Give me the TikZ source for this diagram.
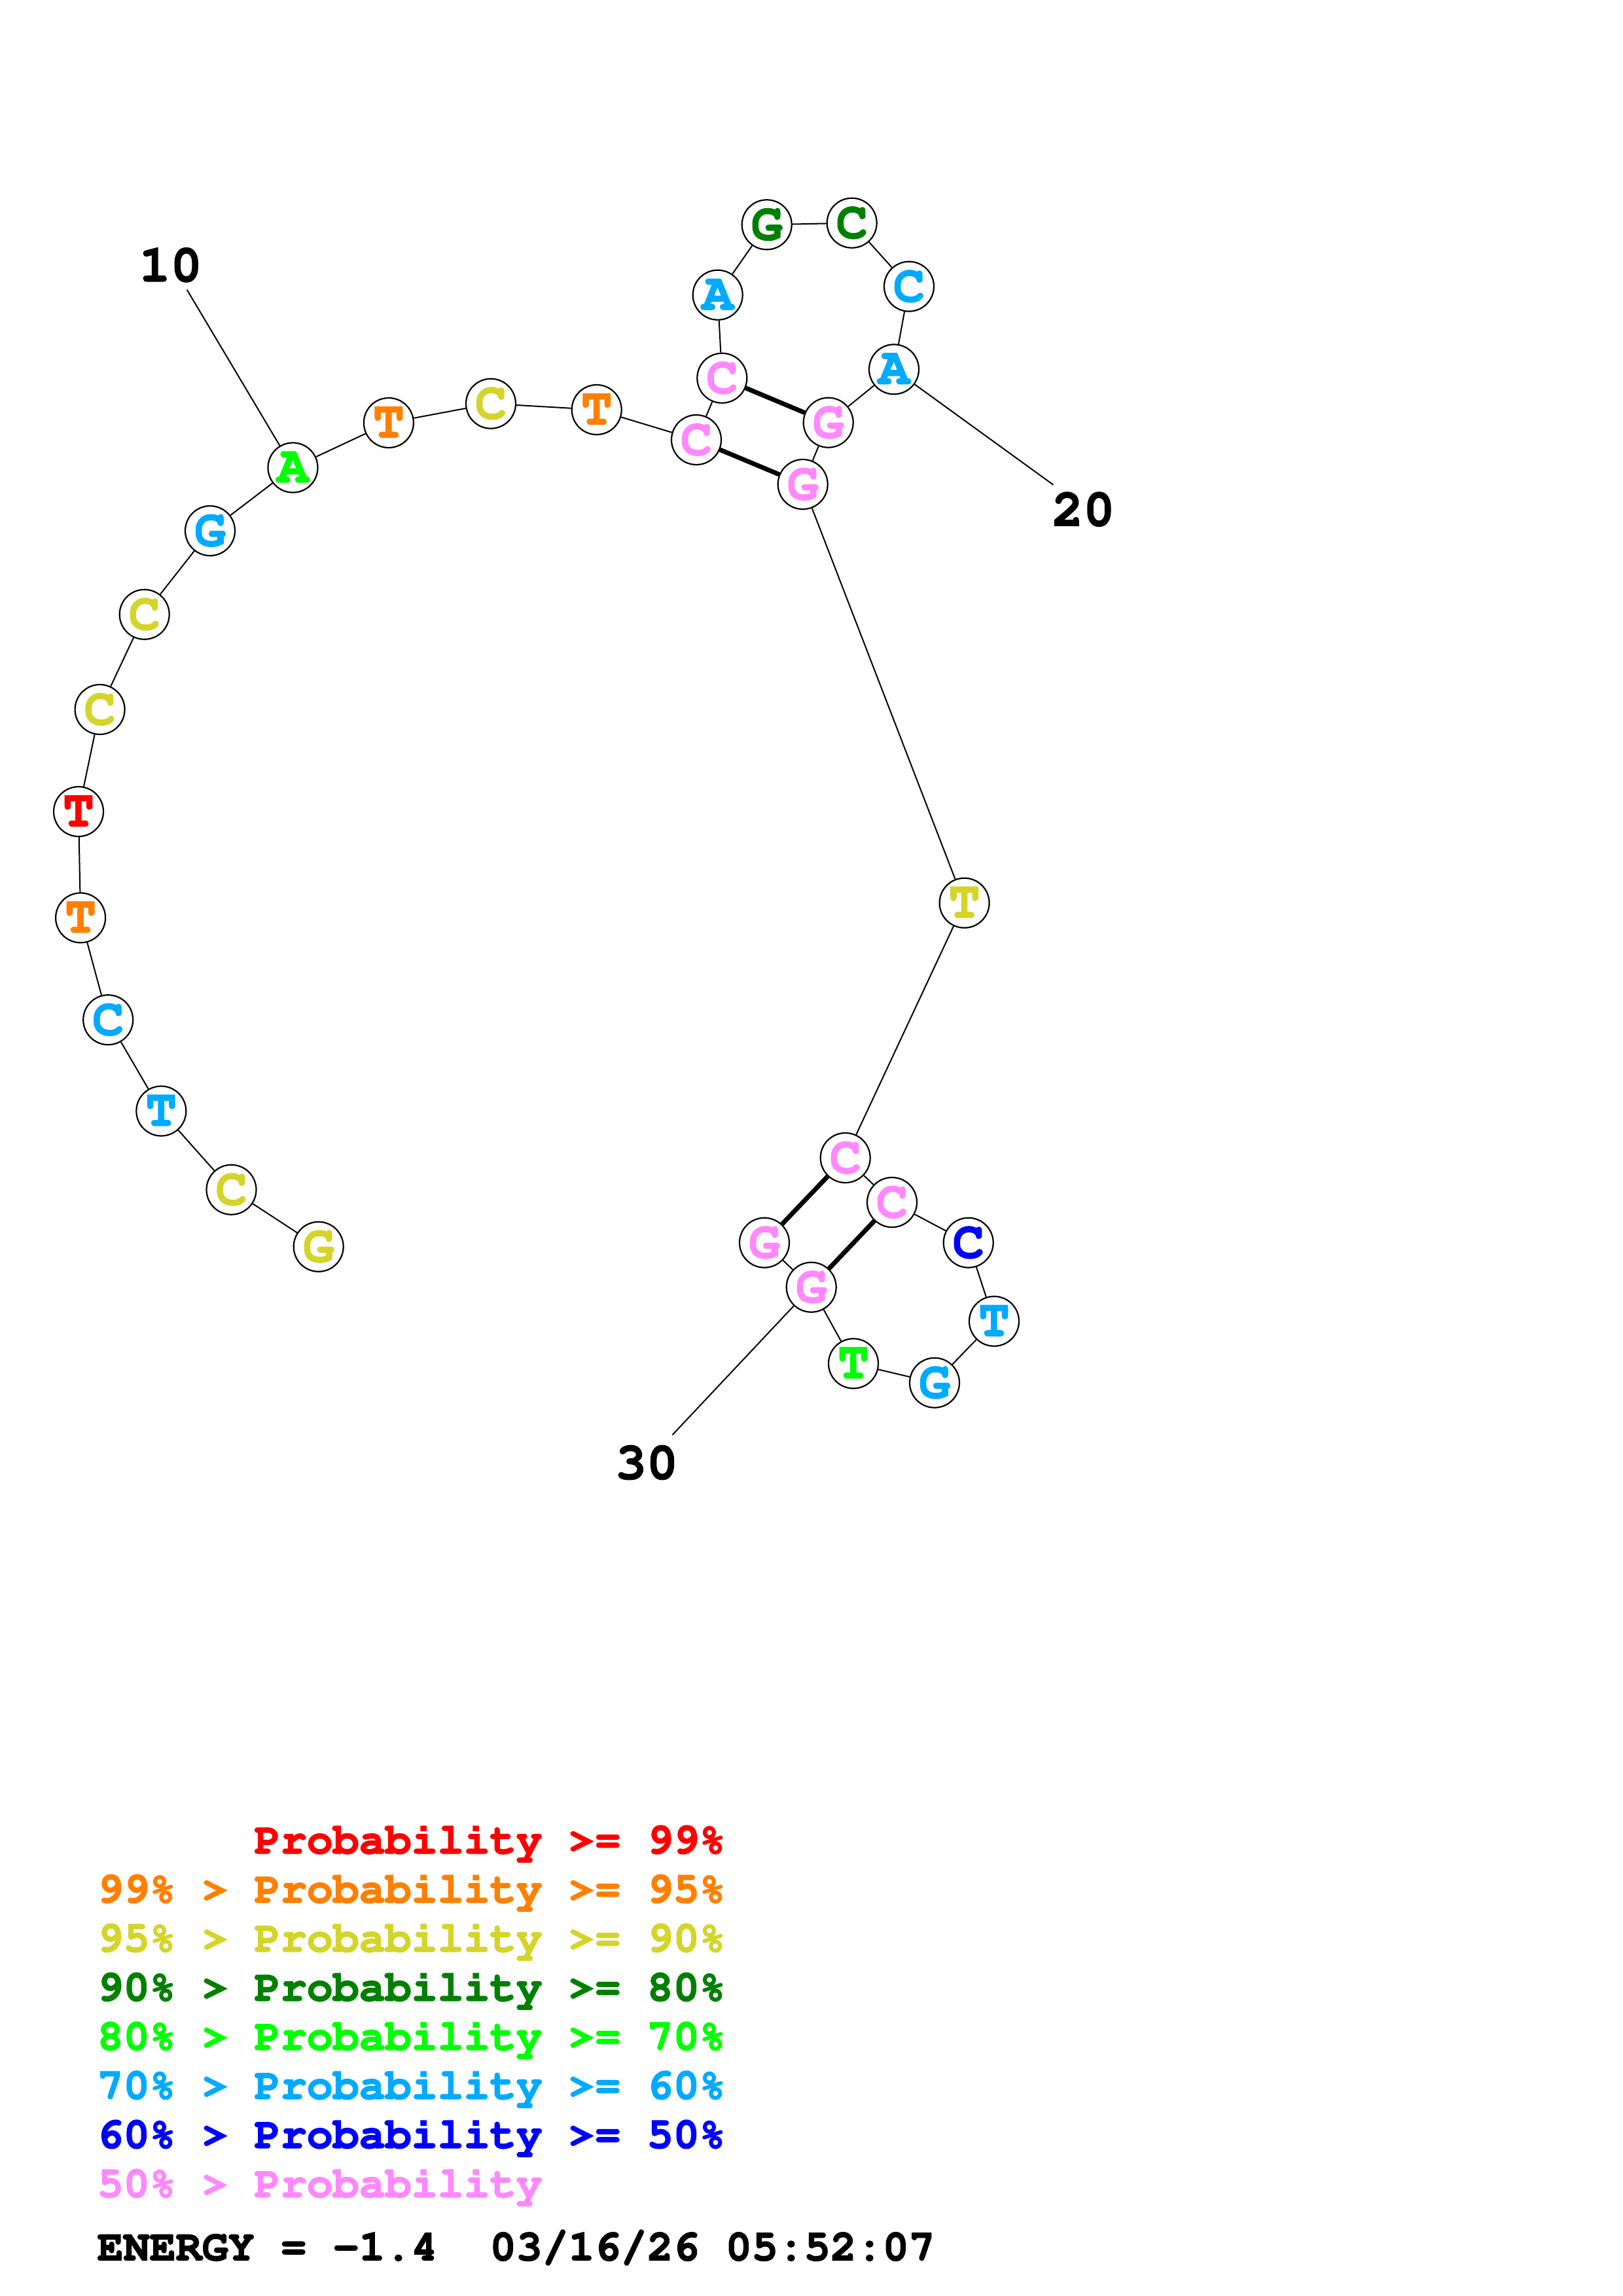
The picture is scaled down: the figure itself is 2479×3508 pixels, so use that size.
\documentclass[tikz,border=0pt]{standalone}
\usepackage[T1]{fontenc}
\newcommand\courb{\fontencoding{T1}\fontfamily{pcr}\fontseries{b}\selectfont}
\newcommand\fbon{\special{pdf:literal direct 2 Tr 0.45 w}}
\newcommand\fboff{\special{pdf:literal direct 0 Tr}}
\newcommand\fakebold[1]{\fbon#1\fboff}
\definecolor{cR}{RGB}{255,0,0}
\definecolor{cO}{RGB}{255,128,0}
\definecolor{cY}{RGB}{212,212,42}
\definecolor{cDG}{RGB}{0,128,0}
\definecolor{cG}{RGB}{0,255,0}
\definecolor{cLB}{RGB}{0,170,255}
\definecolor{cB}{RGB}{0,0,255}
\definecolor{cP}{RGB}{255,136,255}
\tikzset{
  nuc/.style={circle, draw=black, fill=white, line width=0.22mm, minimum size=7.6mm, inner sep=0pt,
    font=\courb\fontsize{22.76}{24}\selectfont, execute at begin node=\fbon, execute at end node=\fboff},
  bb/.style={line width=0.2mm, draw=black},
  pairline/.style={line width=0.7mm, draw=black},
  numlbl/.style={inner sep=0pt, font=\courb\fontsize{22.76}{24}\selectfont},
  leg/.style={anchor=base west, inner sep=0pt, font=\courb\fontsize{18.97}{20}\selectfont},
}
\begin{document}
\begin{tikzpicture}[x=0.1mm,y=-0.1mm]
\useasboundingbox (0,0) rectangle (2479,3508);
% nucleotides
\node[nuc, text=cY]  (n1)  at (486.7,1904.8) {G};
\node[nuc, text=cY]  (n2)  at (353.5,1817.7) {C};
\node[nuc, text=cLB] (n3)  at (246.3,1697.5) {T};
\node[nuc, text=cLB] (n4)  at (165.2,1558.2) {C};
\node[nuc, text=cO]  (n5)  at (123.1,1402.3) {T};
\node[nuc, text=cR]  (n6)  at (120,1240) {T};
\node[nuc, text=cY]  (n7)  at (152.6,1084) {C};
\node[nuc, text=cY]  (n8)  at (220.7,938.8) {C};
\node[nuc, text=cLB] (n9)  at (321,811) {G};
\node[nuc, text=cG]  (n10) at (447.5,714.5) {A};
\node[nuc, text=cO]  (n11) at (593.9,646) {T};
\node[nuc, text=cY]  (n12) at (750,616.7) {C};
\node[nuc, text=cO]  (n13) at (911.7,626) {T};
\node[nuc, text=cP]  (n14) at (1064,672) {C};
\node[nuc, text=cP]  (n15) at (1103.3,577.7) {C};
\node[nuc, text=cLB] (n16) at (1096.7,450.7) {A};
\node[nuc, text=cDG] (n17) at (1171.7,343.3) {G};
\node[nuc, text=cDG] (n18) at (1301.7,340.7) {C};
\node[nuc, text=cLB] (n19) at (1389,437.7) {C};
\node[nuc, text=cLB] (n20) at (1366,564.3) {A};
\node[nuc, text=cP]  (n21) at (1265.7,645.7) {G};
\node[nuc, text=cP]  (n22) at (1226.7,740) {G};
\node[nuc, text=cY]  (n23) at (1473.6,1379.6) {T};
\node[nuc, text=cP]  (n24) at (1291.7,1769) {C};
\node[nuc, text=cP]  (n25) at (1363,1837) {C};
\node[nuc, text=cB]  (n26) at (1479.7,1898.7) {C};
\node[nuc, text=cLB] (n27) at (1519,2018.7) {T};
\node[nuc, text=cLB] (n28) at (1428,2112.7) {G};
\node[nuc, text=cG]  (n29) at (1304,2083.3) {T};
\node[nuc, text=cP]  (n30) at (1239.7,1966.7) {G};
\node[nuc, text=cP]  (n31) at (1168,1898.7) {G};
% backbone
\draw[bb] (n1)--(n2)--(n3)--(n4)--(n5)--(n6)--(n7)--(n8)--(n9)--(n10)--(n11)--(n12)--(n13)--(n14)--(n15)--(n16)--(n17)--(n18)--(n19)--(n20)--(n21)--(n22)--(n23)--(n24)--(n25)--(n26)--(n27)--(n28)--(n29)--(n30)--(n31);
% pairs
\draw[pairline] (n14)--(n22);
\draw[pairline] (n15)--(n21);
\draw[pairline] (n24)--(n31);
\draw[pairline] (n25)--(n30);
% number labels
\node[numlbl] (l10) at (260.7,405.3) {\fakebold{10}};
\coordinate (e10) at (285.7,442.7);
\draw[bb] (n10)--(e10);
\node[numlbl] (l20) at (1655.4,778.6) {\fakebold{20}};
\coordinate (e20) at (1609.5,740.8);
\draw[bb] (n20)--(e20);
\node[numlbl] (l30) at (988,2235) {\fakebold{30}};
\coordinate (e30) at (1027.4,2192.4);
\draw[bb] (n30)--(e30);
% legend
\node[leg, text=cR]  (g1) at (388,2831.7) {\fakebold{Probability >= 99\%}};
\node[leg, text=cO]  (g2) at (148,2906.7) {\fakebold{99\% > Probability >= 95\%}};
\node[leg, text=cY]  (g3) at (148,2981.7) {\fakebold{95\% > Probability >= 90\%}};
\node[leg, text=cDG] (g4) at (148,3056.7) {\fakebold{90\% > Probability >= 80\%}};
\node[leg, text=cG]  (g5) at (148,3131.7) {\fakebold{80\% > Probability >= 70\%}};
\node[leg, text=cLB] (g6) at (148,3206.7) {\fakebold{70\% > Probability >= 60\%}};
\node[leg, text=cB]  (g7) at (148,3281.7) {\fakebold{60\% > Probability >= 50\%}};
\node[leg, text=cP]  (g8) at (148,3356.7) {\fakebold{50\% > Probability}};
\node[leg, text=black] (en) at (148,3453.3) {\fakebold{ENERGY = -1.4\ \ 03/16/26 05:52:07}};
\end{tikzpicture}
\end{document}
